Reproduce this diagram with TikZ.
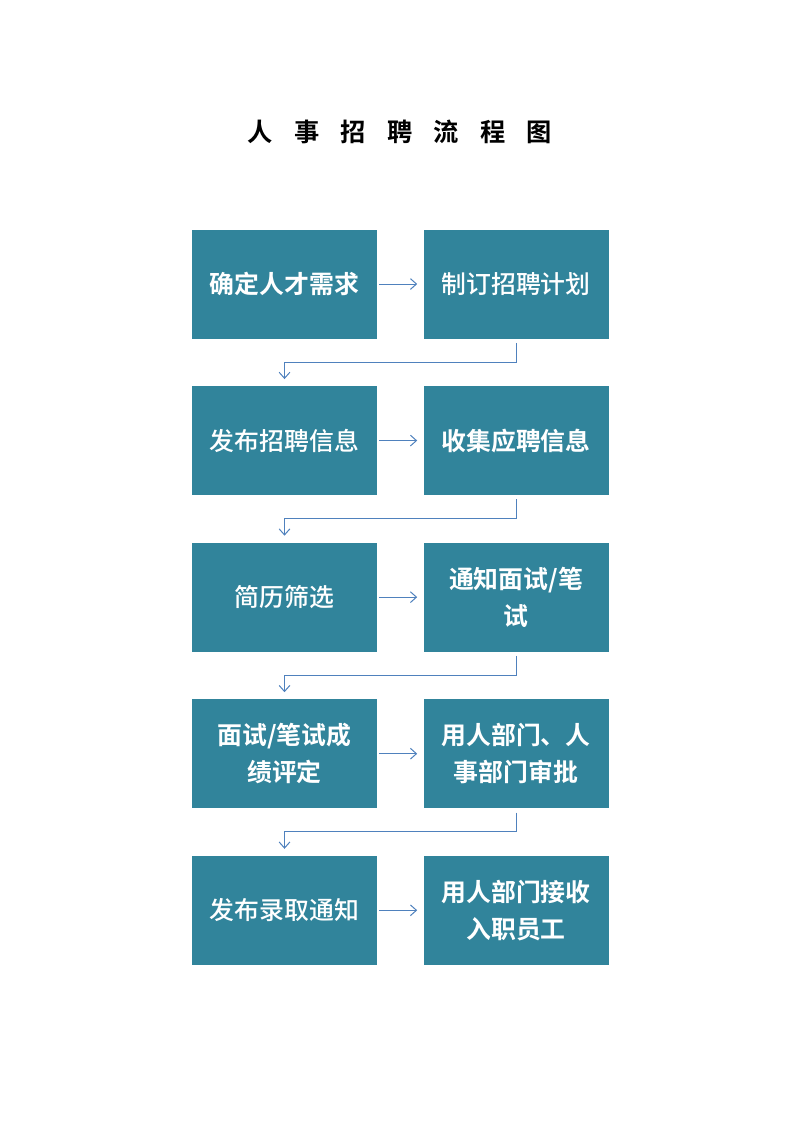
\documentclass[tikz,border=0pt]{standalone}
\usepackage{fontspec}
\setmainfont{Noto Sans CJK SC}[UprightFont=* Medium, BoldFont=* Bold]
\usepackage{tikz}
\usetikzlibrary{positioning, arrows.meta}
\definecolor{boxteal}{HTML}{31849B}
\definecolor{linkblue}{HTML}{4F81BD}
\newcommand{\titlegap}{\hspace{15.8pt}}
\tikzstyle{stepbox} = [rectangle, minimum width=137.7pt, minimum height=81.1pt, inner sep=0pt, text centered, align=center, fill=boxteal, text=white, font=\fontsize{18.5pt}{27.3pt}\selectfont]
\tikzstyle{stepbold} = [stepbox, font=\fontsize{18.5pt}{27.3pt}\selectfont\bfseries]
\tikzstyle{link} = [draw=linkblue, line width=0.75pt, -{Straight Barb[length=4.5pt,width=8pt]}]

\begin{document}
\begin{tikzpicture}[x=0.7441pt, y=-0.7441pt, node distance=35pt and 34.2pt]
			
			\useasboundingbox (0,0) rectangle (800,1131);
			
			\node (title) at (400,131.7) [font=\fontsize{18.8pt}{20pt}\selectfont\bfseries] {人\titlegap 事\titlegap 招\titlegap 聘\titlegap 流\titlegap 程\titlegap 图};
			
			\node (need) [stepbold] at (284.5,284) {确定人才需求};
			\node (plan) [stepbox, right=of need] {制订招聘计划};
			
			\node (publish) [stepbox, below=of need] {发布招聘信息};
			\node (collect) [stepbold, right=of publish] {收集应聘信息};
			
			\node (screen) [stepbox, below=of publish] {简历筛选};
			\node (notify) [stepbold, right=of screen] {通知面试/笔\\试};
			
			\node (assess) [stepbold, below=of screen] {面试/笔试成\\绩评定};
			\node (approve) [stepbold, right=of assess] {用人部门、人\\事部门审批};
			
			\node (offer) [stepbox, below=of assess] {发布录取通知};
			\node (onboard) [stepbold, right=of offer] {用人部门接收\\入职员工};
			
			\draw [link, shorten <=1.5pt, shorten >=4.5pt] (need) -- (plan);
			\draw [link, shorten <=1.5pt, shorten >=4.5pt] (publish) -- (collect);
			\draw [link, shorten <=1.5pt, shorten >=4.5pt] (screen) -- (notify);
			\draw [link, shorten <=1.5pt, shorten >=4.5pt] (assess) -- (approve);
			\draw [link, shorten <=1.5pt, shorten >=4.5pt] (offer) -- (onboard);
			
			\draw [link, shorten <=3pt, shorten >=5pt] (plan.south) -- ++(0pt,-17.5pt) -| (publish.north);
			\draw [link, shorten <=3pt, shorten >=5pt] (collect.south) -- ++(0pt,-17.5pt) -| (screen.north);
			\draw [link, shorten <=3pt, shorten >=5pt] (notify.south) -- ++(0pt,-17.5pt) -| (assess.north);
			\draw [link, shorten <=3pt, shorten >=5pt] (approve.south) -- ++(0pt,-17.5pt) -| (offer.north);
			\end{tikzpicture}
\end{document}
